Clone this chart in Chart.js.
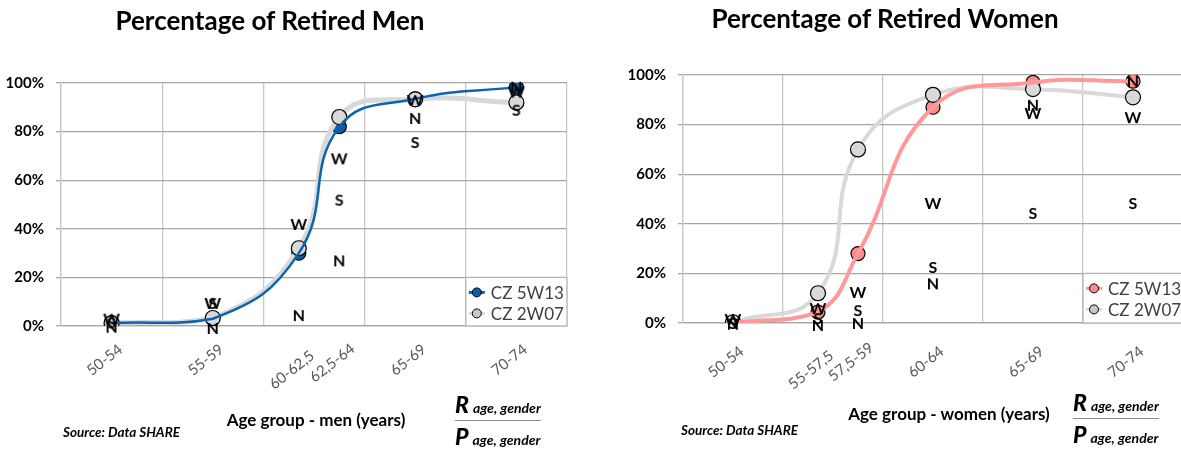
<!DOCTYPE html>
<html>
<head>
<meta charset="utf-8">
<script src="https://cdn.jsdelivr.net/npm/chart.js@4.4.1/dist/chart.umd.min.js"></script>
<style>
  body { margin: 0; width: 1181px; height: 450px; overflow: hidden; background: #fff; position: relative; font-family: Lato, sans-serif; color: #000; }
  canvas { position: absolute; top: 0; }
  #menChart { left: 0; }
  #womenChart { left: 600px; }
  .txt { position: absolute; white-space: nowrap; transform: translate(-50%, -50%); }
  .title { font-size: 26px; font-weight: bold; }
  .axis { font-size: 17px; font-weight: bold; }
  .src { position: absolute; white-space: nowrap; font-size: 13.5px; font-weight: bold; font-style: italic; transform: translateY(-50%); }
  .frac { position: absolute; white-space: nowrap; font-weight: bold; font-style: italic; }
  .frac b { font-size: 23px; }
  .frac span { font-size: 14px; margin-left: 4px; }
  .frac .bar { width: 86px; height: 0; border-top: 1px solid #8c8c8c; margin: 2px 0 1px 0; }
</style>
</head>
<body>
<canvas id="menChart" width="600" height="450"></canvas>
<canvas id="womenChart" width="600" height="450"></canvas>

<div class="txt title" style="left:270px;top:20px">Percentage of Retired Men</div>
<div class="txt title" style="left:885px;top:18px">Percentage of Retired Women</div>
<div class="txt axis" style="left:316px;top:419px">Age group - men (years)</div>
<div class="txt axis" style="left:949px;top:413px">Age group - women (years)</div>
<div class="src" style="left:63px;top:432px">Source: Data SHARE</div>
<div class="src" style="left:681px;top:430px">Source: Data SHARE</div>
<div class="frac" style="left:455px;top:390px">
  <div><b>R</b><span>age, gender</span></div><div class="bar"></div><div><b>P</b><span>age, gender</span></div>
</div>
<div class="frac" style="left:1073px;top:388px">
  <div><b>R</b><span>age, gender</span></div><div class="bar"></div><div><b>P</b><span>age, gender</span></div>
</div>

<script>
// ---- men ----
const menAges = ['50-54', '55-59', '60-62,5', '62,5-64', '65-69', '70-74'];
const menMid = [52, 57, 61.25, 63.25, 67, 72];
const men5W13 = [1.2, 3, 30, 82, 93.5, 98.3];
const men2W07 = [1.2, 3.3, 32, 86, 93.3, 92];
const menW = [3, 9.5, 42, 69, 93, 96.5];
const menS = [1.5, 9.5, null, 52, 75.7, 89];
const menN = [-0.3, -0.8, 4.5, 27, 85.6, 98.5];

// ---- women ----
const womenAges = ['50-54', '55-57,5', '57,5-59', '60-64', '65-69', '70-74'];
const womenMid = [52, 56.25, 58.25, 62, 67, 72];
const women5W13 = [0, 4.4, 28, 87, 97, 97.5];
const women2W07 = [0.3, 12, 70, 92, 94.3, 91];
const womenW = [1.6, 6, 12.5, 48.4, 84.7, 83];
const womenS = [0, 2, 5.2, 22.6, 44.4, 48.4];
const womenN = [-0.3, -0.8, 0, 16, 88, 97.5];

const xGrid = [49.5, 54.5, 59.5, 64.5, 69.5, 74.5];
const yTicks = [0, 20, 40, 60, 80, 100];

const GREY = '#d9d9d9';

function pts(xs, ys) {
    return xs.map((x, i) => ({ x, y: ys[i] })).filter(p => p.y !== null);
}

// letters drawn as image point styles
function letterMark(ch) {
    const c = document.createElement('canvas');
    c.width = 22; c.height = 22;
    const g = c.getContext('2d');
    g.font = 'bold 16px Lato';
    g.fillStyle = '#000';
    g.textAlign = 'center';
    g.textBaseline = 'middle';
    g.fillText(ch, 11, 12);
    return c;
}

function letterSet(ch, xs, ys) {
    return { label: ch, data: pts(xs, ys), showLine: false, pointStyle: letterMark(ch), pointRadius: 10, clip: false, order: 0 };
}

// rotated category names under the x axis
const ageLabels = {
    id: 'ageLabels',
    afterDraw(chart, args, o) {
        const { ctx, chartArea } = chart;
        const xs = chart.scales.x;
        ctx.save();
        ctx.font = '15px Lato';
        ctx.fillStyle = '#595959';
        ctx.textAlign = 'center';
        ctx.textBaseline = 'middle';
        o.labels.forEach((lab, i) => {
            const px = xs.getPixelForValue(o.mids[i]) - 7;
            const py = chartArea.bottom + o.offset + (o.shift[i] || 0);
            ctx.save();
            ctx.translate(px, py);
            ctx.rotate(-38 * Math.PI / 180);
            ctx.fillText(lab, 0, 0);
            ctx.restore();
        });
        ctx.restore();
    }
};

// legend box sitting in the bottom-right cell of the grid
const cellLegend = {
    id: 'cellLegend',
    afterDatasetsDraw(chart, args, o) {
        const { ctx, chartArea } = chart;
        const left = chart.scales.x.getPixelForValue(69.5);
        const top = chart.scales.y.getPixelForValue(20);
        ctx.save();
        ctx.fillStyle = '#fff';
        ctx.fillRect(left, top, chartArea.right - left, chartArea.bottom - top);
        ctx.strokeStyle = '#b4b4b4';
        ctx.lineWidth = 1.3;
        ctx.strokeRect(left, top, chartArea.right - left, chartArea.bottom - top);
        o.items.forEach((it, i) => {
            const y = top + (i === 0 ? 15 : 36);
            const mx = left + 11;
            ctx.strokeStyle = it.line;
            ctx.lineWidth = it.lineWidth;
            ctx.beginPath();
            ctx.moveTo(mx - 8, y);
            ctx.lineTo(mx + 8, y);
            ctx.stroke();
            ctx.beginPath();
            ctx.arc(mx, y, 4.5, 0, Math.PI * 2);
            ctx.fillStyle = it.fill;
            ctx.fill();
            ctx.strokeStyle = '#000';
            ctx.lineWidth = 1;
            ctx.stroke();
            ctx.fillStyle = '#404040';
            ctx.font = '17px Lato';
            ctx.textAlign = 'left';
            ctx.textBaseline = 'middle';
            ctx.fillText(it.text, left + 25, y + 1);
        });
        ctx.restore();
    }
};

function makeChart(id, cfg) {
    const ctx = document.getElementById(id).getContext('2d');
    return new Chart(ctx, {
        type: 'scatter',
        data: {
            datasets: [
                letterSet('W', cfg.mids, cfg.W),
                letterSet('S', cfg.mids, cfg.S),
                letterSet('N', cfg.mids, cfg.N),
                // coloured line on top of grey line
                { label: 'CZ 5W13', data: pts(cfg.mids, cfg.a), showLine: true, tension: 0.45,
                  borderColor: cfg.color, borderWidth: cfg.colorWidth, pointRadius: 0, order: 1 },
                { label: 'CZ 2W07', data: pts(cfg.mids, cfg.b), showLine: true, tension: 0.45,
                  borderColor: GREY, borderWidth: cfg.greyWidth, pointRadius: 7.5,
                  pointBackgroundColor: GREY, pointBorderColor: '#000', pointBorderWidth: 1.2, order: 2 },
                { label: 'CZ 5W13 points', data: pts(cfg.mids, cfg.a), showLine: false,
                  pointRadius: 7, pointBackgroundColor: cfg.pointColor, pointBorderColor: '#000',
                  pointBorderWidth: 1.2, order: 3 }
            ]
        },
        options: {
            responsive: false,
            animation: false,
            events: [],
            layout: { padding: cfg.padding },
            plugins: {
                legend: { display: false },
                tooltip: { enabled: false },
                ageLabels: { labels: cfg.labels, mids: cfg.mids, shift: cfg.shift, offset: cfg.labelOffset },
                cellLegend: { items: [
                    { text: 'CZ 5W13', line: cfg.color, lineWidth: 3, fill: cfg.pointColor },
                    { text: 'CZ 2W07', line: GREY, lineWidth: 3, fill: '#c8c8c8' }
                ] }
            },
            scales: {
                x: {
                    type: 'linear', min: 49.5, max: 74.5,
                    afterBuildTicks: s => { s.ticks = xGrid.map(v => ({ value: v })); },
                    afterFit: s => { s.height = 0; },
                    ticks: { display: false },
                    grid: { color: '#c8c8c8', lineWidth: 1.3, tickLength: 0 },
                    border: { color: '#a6a6a6', width: 1.3 }
                },
                y: {
                    min: 0, max: 100,
                    afterBuildTicks: s => { s.ticks = yTicks.map(v => ({ value: v })); },
                    afterFit: s => { s.width = cfg.yWidth; },
                    ticks: { color: '#000', font: { family: 'Lato', size: 15, weight: 'bold' }, padding: 12, callback: v => v + '%' },
                    grid: { color: '#a6a6a6', lineWidth: 1.3, tickLength: 5 },
                    border: { color: '#c8c8c8', width: 1.3 }
                }
            }
        },
        plugins: [ageLabels, cellLegend]
    });
}

makeChart('menChart', {
    labels: menAges, mids: menMid, a: men5W13, b: men2W07, W: menW, S: menS, N: menN,
    color: '#0b64b0', colorWidth: 2.5, pointColor: '#0b5fa5', greyWidth: 5,
    padding: { left: 0, right: 33, top: 83, bottom: 124 }, yWidth: 61,
    labelOffset: 34, shift: [0, 0, 10, 3, 0, 0]
});

makeChart('womenChart', {
    labels: womenAges, mids: womenMid, a: women5W13, b: women2W07, W: womenW, S: womenS, N: womenN,
    color: '#ff9999', colorWidth: 4, pointColor: '#ff8a8a', greyWidth: 4,
    padding: { left: 0, right: 17, top: 75, bottom: 127 }, yWidth: 83,
    labelOffset: 39, shift: [0, 8, 0, 0, 0, 0]
});
</script>
</body>
</html>
